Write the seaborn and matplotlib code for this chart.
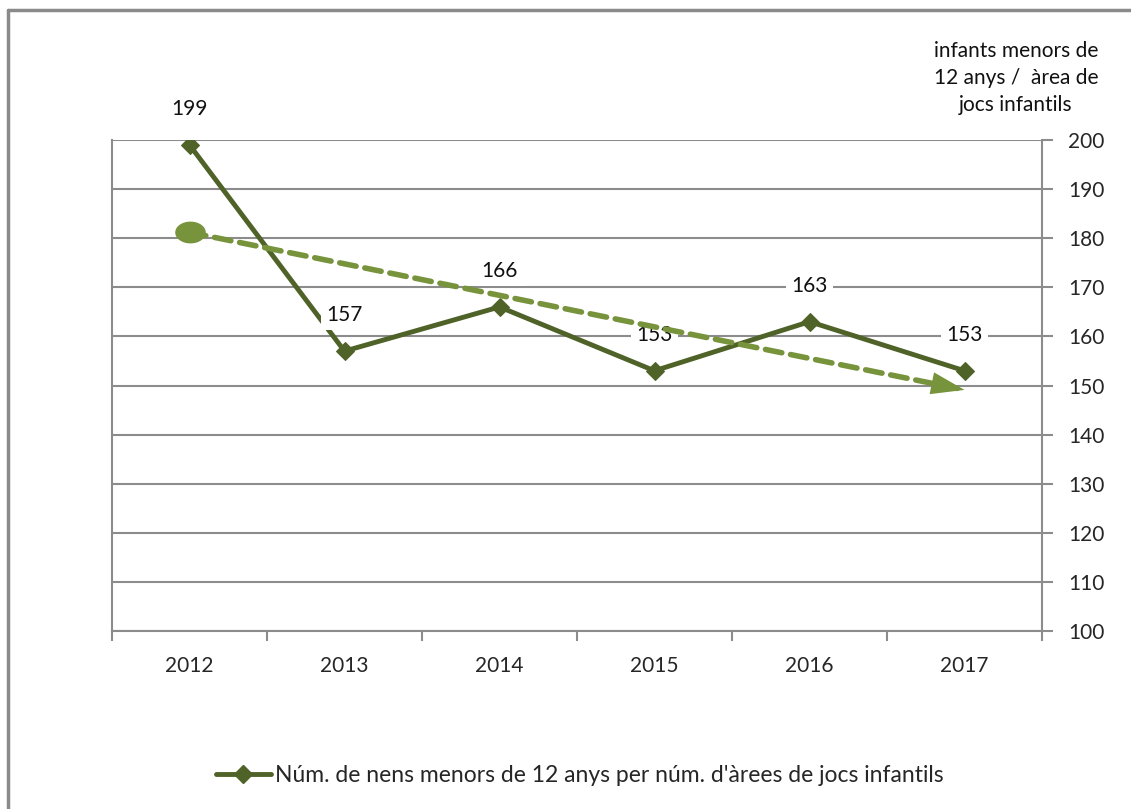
import numpy as np
import pandas as pd
import seaborn as sns
import matplotlib.pyplot as plt
from matplotlib.path import Path
from matplotlib.lines import Line2D

"""
Data
"""
years = ["2012", "2013", "2014", "2015", "2016", "2017"]
values = [199, 157, 166, 153, 163, 153]
trend_ends = [181.2, 149.1]   # linear trend line, start / end
y_ticks = [100, 110, 120, 130, 140, 150, 160, 170, 180, 190, 200]
series_name = "Núm. de nens menors de 12 anys per núm. d'àrees de jocs infantils"
axis_title = "infants menors de\n12 anys /  àrea de\njocs infantils"

main_color = "#4F6228"
trend_color = "#77933C"
grid_color = "#8C8C8C"
fs = 15

df = pd.DataFrame({"pos": range(len(years)), "valor": values})
trend = pd.DataFrame({"pos": [0, len(years) - 1], "valor": trend_ends})

sns.set_style("white")
plt.rcParams["font.family"] = ["Lato", "DejaVu Sans"]

fig = plt.figure(figsize=(11.31, 8.09), dpi=100)
ax = fig.add_axes([112 / 1131, 1 - 631 / 809, (1042 - 112) / 1131, (631 - 140) / 809])

"""
Main series
"""
sns.lineplot(data=df, x="pos", y="valor", ax=ax, color=main_color, lw=3.5,
             marker="D", markersize=9, markeredgecolor=main_color,
             zorder=3, label=series_name, legend=False)

"""
Data labels
"""
for x, v in zip(df["pos"], df["valor"]):
    ax.annotate(str(v), (x, v), xytext=(0, 26), textcoords="offset points",
                ha="center", va="center", fontsize=fs, color="#111111",
                bbox=dict(boxstyle="square,pad=0.25", fc="white", ec="none"),
                zorder=4)

"""
Trend line (dashed, oval start, arrow end)
"""
sns.lineplot(data=trend, x="pos", y="valor", ax=ax, color=trend_color, lw=4,
             dashes=False, zorder=5, legend=False)
ax.lines[-1].set_dashes((3.0, 1.6))
ax.lines[-1].set_dash_capstyle("round")

t = np.linspace(0, 2 * np.pi, 60)
oval = Path(np.column_stack([np.cos(t), 0.7 * np.sin(t)]))
ax.plot(trend["pos"].iloc[0], trend["valor"].iloc[0], marker=oval, markersize=21,
        color=trend_color, zorder=6)

x0, x1 = trend["pos"]
y0, y1 = trend["valor"]
ax.annotate("", xy=(x1, y1), xytext=(x0 + 0.95 * (x1 - x0), y0 + 0.95 * (y1 - y0)),
            arrowprops=dict(arrowstyle="-|>,head_length=1.2,head_width=0.4",
                            color=trend_color, lw=0, mutation_scale=20,
                            shrinkA=0, shrinkB=0),
            zorder=6)

"""
Axes styling
"""
ax.set_xlim(-0.5, len(years) - 0.5)
ax.set_ylim(100, 200)
ax.set_xticks(range(len(years)))
ax.set_xticklabels(years)
ax.set_xticks(np.arange(-0.5, len(years), 1.0), minor=True)
ax.tick_params(axis="x", which="major", length=0, pad=18, labelsize=fs)
ax.tick_params(axis="x", which="minor", length=7, width=1.5, color=grid_color,
               direction="out", bottom=True)
ax.yaxis.tick_right()
ax.set_yticks(y_ticks)
ax.tick_params(axis="y", length=8, width=1.5, color=grid_color, direction="out",
               pad=11, labelsize=fs, right=True, left=False)
for lbl in ax.get_yticklabels():
    lbl.set_horizontalalignment("left")
ax.set_xlabel("")
ax.set_ylabel("")
ax.grid(axis="y", color=grid_color, lw=1.5)
ax.grid(axis="x", visible=False)
ax.set_axisbelow(True)
for side in ["left", "right", "bottom"]:
    ax.spines[side].set_color(grid_color)
    ax.spines[side].set_linewidth(1.5)
ax.spines["top"].set_visible(False)
ax.set_facecolor("white")

fig.text(1016 / 1131, 1 - 78 / 809, axis_title, ha="center", va="center",
         fontsize=fs, linespacing=1.45, color="#111111")

"""
Legend
"""
fig.legend(handles=[Line2D([], [], color=main_color, lw=3.5, marker="D",
                           markersize=9, label=series_name)],
           loc="center", bbox_to_anchor=(580 / 1131, 1 - 776 / 809),
           frameon=False, fontsize=16.5, handlelength=2.4, handletextpad=0.2)

"""
Outer border
"""
fig.add_artist(Line2D([8 / 1131, 8 / 1131], [0, 1 - 10 / 809], color="#8A8A8A",
                      lw=2.5, transform=fig.transFigure))
fig.add_artist(Line2D([8 / 1131, 1], [1 - 10 / 809, 1 - 10 / 809], color="#8A8A8A",
                      lw=2.5, transform=fig.transFigure))

fig.savefig("out.png", dpi=100, facecolor="white")
